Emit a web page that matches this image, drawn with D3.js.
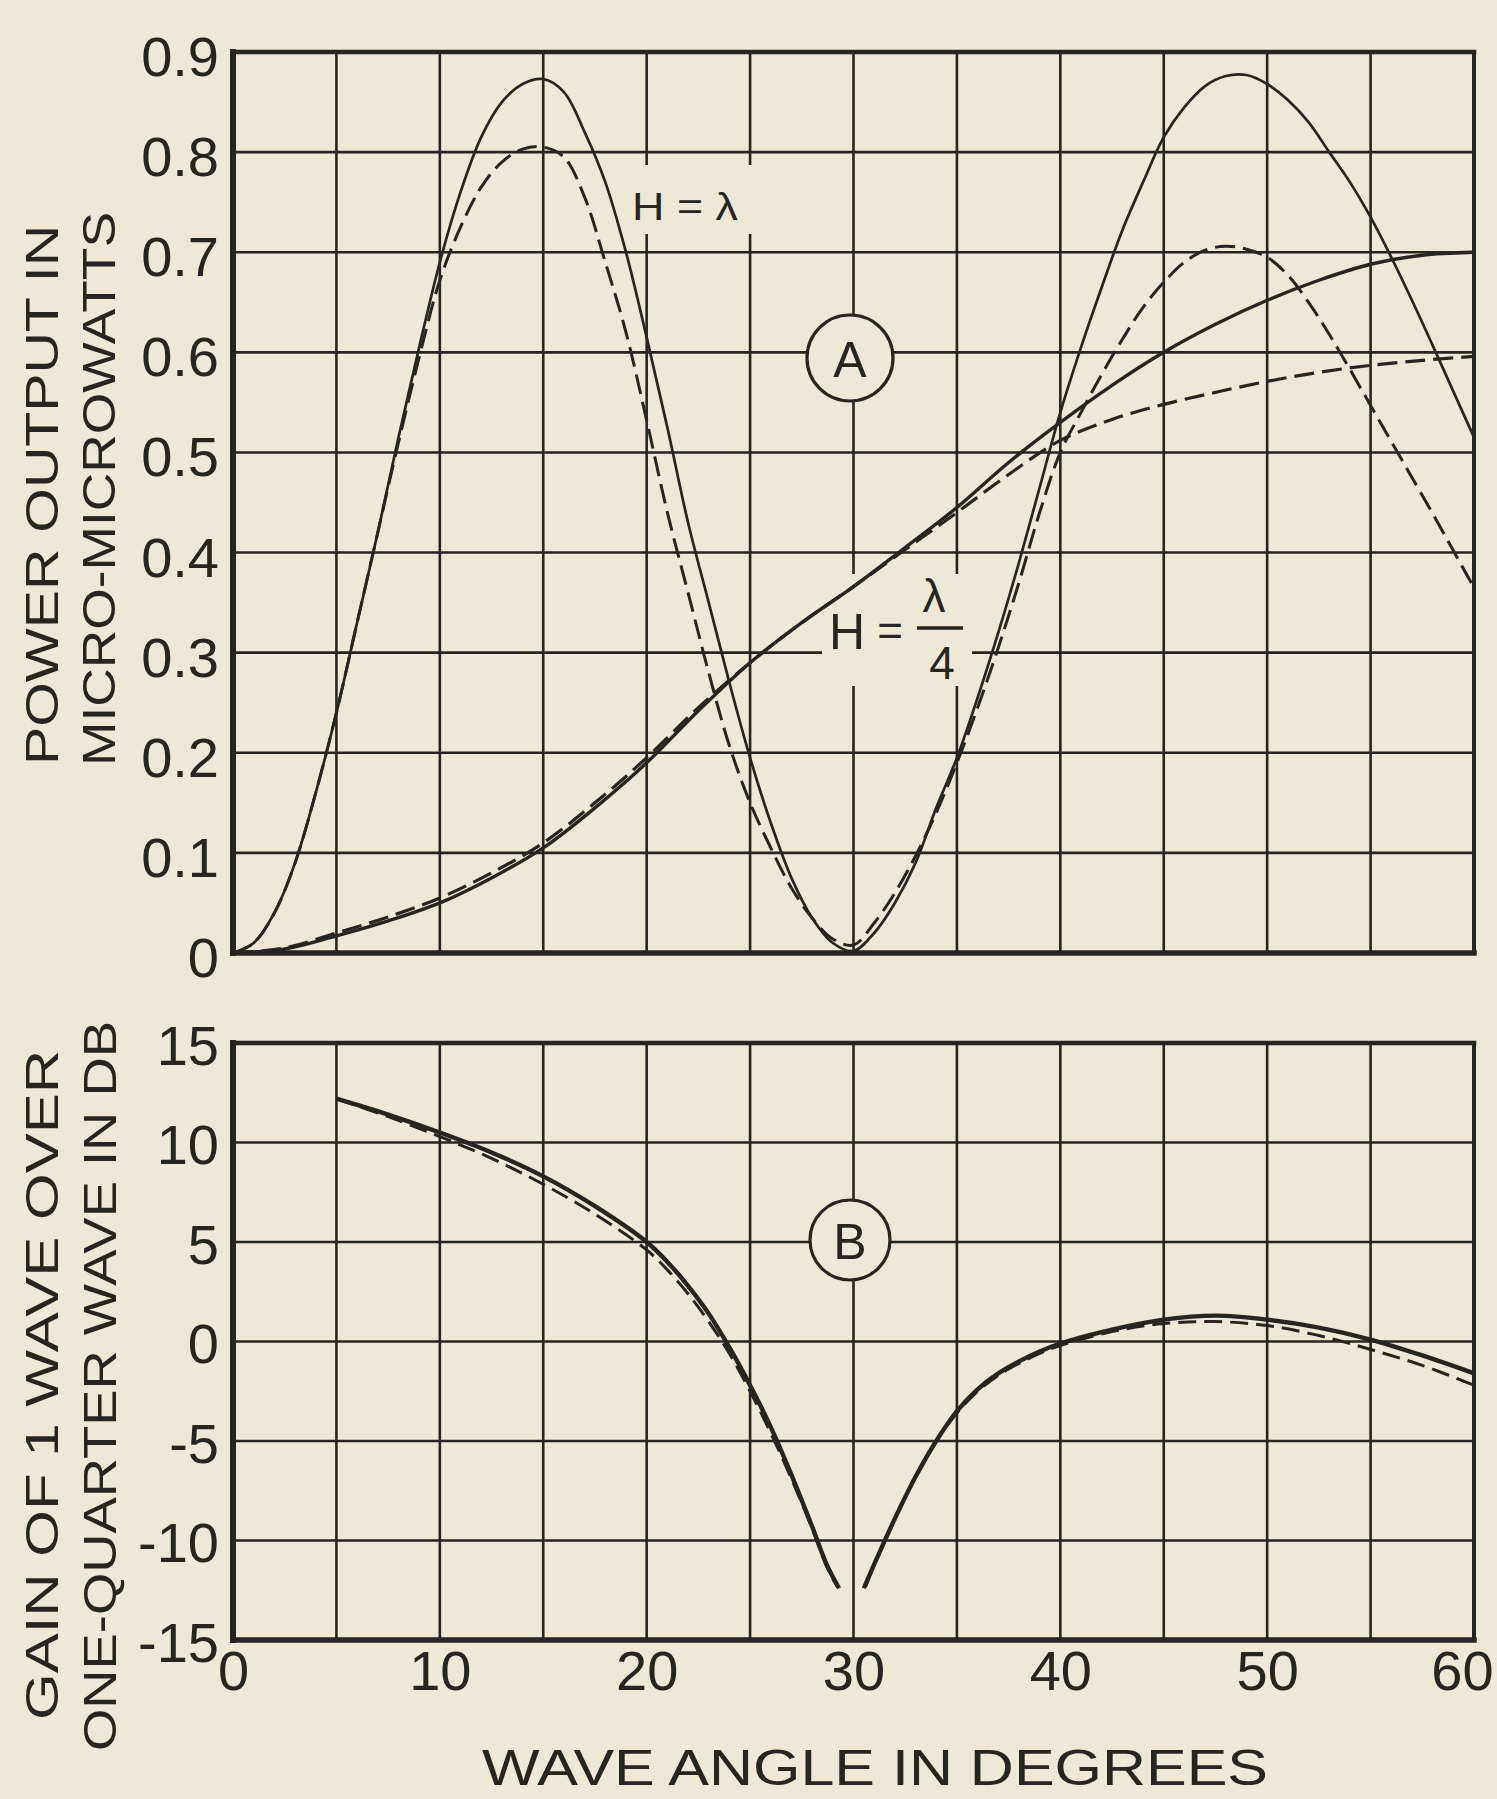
<!DOCTYPE html>
<html><head><meta charset="utf-8">
<script src="https://cdn.jsdelivr.net/npm/d3@7"></script>
<style>html,body{margin:0;padding:0;background:#eee8d6;}</style>
</head><body>
<script>
// ---------- DATA ----------
const xTicks = [0, 10, 20, 30, 40, 50, 60];
const yTopTicks = [0, 0.1, 0.2, 0.3, 0.4, 0.5, 0.6, 0.7, 0.8, 0.9];
const yBotTicks = [-15, -10, -5, 0, 5, 10, 15];

// H = lambda, solid (power, micro-microwatts)
const lambdaSolid = [[0,0],[1,0.01],[2,0.04],[3,0.09],[4,0.16],[5,0.24],[6,0.33],[7,0.42],[8,0.515],[9,0.605],[10,0.69],[11,0.76],[12,0.815],[13,0.85],[14,0.868],[15,0.873],[16,0.86],[17,0.82],[18,0.77],[19,0.70],[20,0.615],[21,0.525],[22,0.43],[23,0.35],[24,0.27],[25,0.195],[26,0.13],[27,0.075],[28,0.035],[29,0.01],[30,0.002],[31,0.02],[32,0.05],[33,0.09],[34,0.145],[35,0.195],[36,0.255],[37,0.32],[38,0.39],[39,0.465],[40,0.54],[41,0.605],[42,0.665],[43,0.722],[44,0.77],[45,0.815],[46,0.845],[47,0.866],[48,0.876],[49,0.877],[50,0.868],[51,0.852],[52,0.83],[53,0.80],[54,0.77],[55,0.735],[56,0.695],[57,0.652],[58,0.607],[59,0.561],[60,0.515]];
// H = lambda, dashed
const lambdaDashed = [[0,0],[1,0.01],[2,0.04],[3,0.09],[4,0.16],[5,0.24],[6,0.33],[7,0.42],[8,0.51],[9,0.595],[10,0.672],[11,0.725],[12,0.765],[13,0.79],[14,0.803],[15,0.805],[16,0.795],[17,0.755],[18,0.69],[19,0.62],[20,0.532],[21,0.44],[22,0.36],[23,0.28],[24,0.207],[25,0.15],[26,0.105],[27,0.065],[28,0.035],[29,0.014],[30,0.008],[31,0.03],[32,0.06],[33,0.097],[34,0.14],[35,0.19],[36,0.245],[37,0.305],[38,0.37],[39,0.44],[40,0.50],[41,0.54],[42,0.578],[43,0.613],[44,0.645],[45,0.67],[46,0.69],[47,0.702],[48,0.706],[49,0.703],[50,0.695],[51,0.677],[52,0.65],[53,0.618],[54,0.583],[55,0.547],[56,0.511],[57,0.475],[58,0.439],[59,0.402],[60,0.365]];
// H = lambda/4, solid
const quarterSolid = [[0,0],[2.5,0.004],[5,0.017],[7.5,0.032],[10,0.05],[12.5,0.075],[15,0.105],[17.5,0.145],[20,0.19],[22.5,0.242],[25,0.29],[27.5,0.33],[30,0.366],[32.5,0.405],[35,0.445],[37.5,0.49],[40,0.53],[42.5,0.567],[45,0.60],[47.5,0.628],[50,0.652],[52.5,0.672],[55,0.688],[57.5,0.697],[60,0.70]];
// H = lambda/4, dashed
const quarterDashed = [[0,0],[2.5,0.005],[5,0.02],[7.5,0.036],[10,0.055],[12.5,0.08],[15,0.11],[17.5,0.15],[20,0.195],[22.5,0.245],[25,0.29],[27.5,0.33],[30,0.366],[32.5,0.403],[35,0.44],[37.5,0.478],[40,0.512],[42.5,0.533],[45,0.548],[47.5,0.56],[50,0.571],[52.5,0.58],[55,0.587],[57.5,0.592],[60,0.596]];

// Gain (dB), solid, two branches
const gainSolidLeft = [[5,12.2],[7.5,11.4],[10,10.5],[12.5,9.5],[15,8.3],[17.5,6.8],[20,5.0],[21,4.0],[22,2.8],[23,1.4],[24,-0.3],[25,-2.2],[26,-4.3],[27,-6.7],[28,-9.3],[28.7,-11.2],[29.3,-12.4]];
const gainSolidRight = [[30.5,-12.4],[31,-11.2],[32,-8.9],[33,-6.8],[34,-5.0],[35,-3.5],[36,-2.4],[37,-1.6],[38,-1.0],[39,-0.5],[40,-0.1],[42.5,0.6],[45,1.1],[47.5,1.3],[50,1.1],[52.5,0.7],[55,0.1],[57.5,-0.7],[60,-1.6]];
// Gain (dB), dashed
const gainDashedLeft = [[5,12.2],[7.5,11.3],[10,10.3],[12.5,9.2],[15,7.9],[17.5,6.4],[20,4.6],[21,3.6],[22,2.4],[23,1.0],[24,-0.6],[25,-2.5],[26,-4.6],[27,-6.9],[28,-9.4],[28.7,-11.3],[29.2,-12.3]];
const gainDashedRight = [[30.6,-12.3],[31,-11.2],[32,-8.9],[33,-6.8],[34,-5.0],[35,-3.6],[36,-2.5],[37,-1.7],[38,-1.1],[39,-0.6],[40,-0.2],[42.5,0.5],[45,0.9],[47.5,1.0],[50,0.8],[52.5,0.3],[55,-0.4],[57.5,-1.2],[60,-2.2]];

// ---------- DRAWING ----------
const W = 1497, H = 1799;
const paper = "#eee8d6", ink = "#262521";
const font = "'Liberation Sans', Arial, sans-serif";

const svg = d3.select("body").append("svg").attr("width", W).attr("height", H)
  .style("display","block");
svg.append("rect").attr("width", W).attr("height", H).attr("fill", paper);

const x = d3.scaleLinear().domain([0, 60]).range([233, 1474]);
const yTop = d3.scaleLinear().domain([0, 0.9]).range([953, 52]);
const yBot = d3.scaleLinear().domain([-15, 15]).range([1640, 1043]);

function grid(yScale, yvals) {
  const g = svg.append("g").attr("stroke", ink).attr("stroke-width", 2.6);
  g.selectAll("line.v").data(d3.range(5, 60, 5)).join("line")
    .attr("x1", d => x(d)).attr("x2", d => x(d))
    .attr("y1", yScale.range()[0]).attr("y2", yScale.range()[1]);
  g.selectAll("line.h").data(yvals).join("line")
    .attr("x1", x(0)).attr("x2", x(60))
    .attr("y1", d => yScale(d)).attr("y2", d => yScale(d));
}
grid(yTop, yTopTicks.slice(1, -1));
grid(yBot, yBotTicks.slice(1, -1));

// knock-outs behind labels
svg.append("rect").attr("x", 622).attr("y", 165).attr("width", 130).attr("height", 69).attr("fill", paper);
svg.append("rect").attr("x", 822).attr("y", 574).attr("width", 150).attr("height", 112).attr("fill", paper);

// curves
const lineTop = d3.line().x(d => x(d[0])).y(d => yTop(d[1])).curve(d3.curveCatmullRom.alpha(0.5));
const lineBot = d3.line().x(d => x(d[0])).y(d => yBot(d[1])).curve(d3.curveCatmullRom.alpha(0.5));
const curves = svg.append("g").attr("fill", "none").attr("stroke", ink).attr("stroke-linecap", "butt");

curves.append("path").attr("d", lineTop(quarterSolid)).attr("stroke-width", 3.4);
curves.append("path").attr("d", lineTop(quarterDashed)).attr("stroke-width", 3.2).attr("stroke-dasharray", "20,8");
curves.append("path").attr("d", lineTop(lambdaSolid)).attr("stroke-width", 2.7);
curves.append("path").attr("d", lineTop(lambdaDashed)).attr("stroke-width", 3).attr("stroke-dasharray", "20,8");

curves.append("path").attr("d", lineBot(gainSolidLeft)).attr("stroke-width", 4.4);
curves.append("path").attr("d", lineBot(gainSolidRight)).attr("stroke-width", 4.4);
curves.append("path").attr("d", lineBot(gainDashedLeft)).attr("stroke-width", 3).attr("stroke-dasharray", "18,8");
curves.append("path").attr("d", lineBot(gainDashedRight)).attr("stroke-width", 3).attr("stroke-dasharray", "18,8");

// frames
function frame(yScale) {
  const g = svg.append("g").attr("stroke", ink).attr("stroke-linecap", "square");
  const y0 = yScale.range()[0], y1 = yScale.range()[1];
  g.append("line").attr("x1", x(0)).attr("x2", x(60)).attr("y1", y1).attr("y2", y1).attr("stroke-width", 4.5);
  g.append("line").attr("x1", x(60)).attr("x2", x(60)).attr("y1", y1).attr("y2", y0).attr("stroke-width", 4);
  g.append("line").attr("x1", x(0)).attr("x2", x(60)).attr("y1", y0).attr("y2", y0).attr("stroke-width", 5.5);
  g.append("line").attr("x1", x(0)).attr("x2", x(0)).attr("y1", y1).attr("y2", y0).attr("stroke-width", 6);
}
frame(yTop);
frame(yBot);

// axes (tick labels)
function styleAxis(g) {
  g.select(".domain").remove();
  g.selectAll(".tick line").remove();
  g.selectAll("text").attr("fill", ink).style("font-family", font).style("font-size", "56px");
}
svg.append("g").attr("transform", `translate(${x(0)},0)`)
  .call(d3.axisLeft(yTop).tickValues(yTopTicks).tickSize(0).tickPadding(14)
    .tickFormat(d => d === 0 ? "0" : d3.format(".1f")(d)))
  .call(styleAxis)
  .selectAll("text").attr("dy", "0.42em");
svg.append("g").attr("transform", `translate(${x(0)},0)`)
  .call(d3.axisLeft(yBot).tickValues(yBotTicks).tickSize(0).tickPadding(14)
    .tickFormat(d => String(d)))
  .call(styleAxis)
  .selectAll("text").attr("dy", "0.38em");
svg.append("g").attr("transform", `translate(0,${yBot(-15)})`)
  .call(d3.axisBottom(x).tickValues(xTicks).tickSize(0).tickPadding(10)
    .tickFormat(d => String(d)))
  .call(styleAxis)
  .selectAll("text").filter(d => d === 60).attr("dx", "-12");

// axis titles
function vtitle(txt, cx, cy, len) {
  svg.append("text").attr("transform", `translate(${cx},${cy}) rotate(-90)`)
    .attr("text-anchor", "middle").attr("dominant-baseline", "central")
    .attr("fill", ink).style("font-family", font).style("font-size", "46px")
    .attr("textLength", len).attr("lengthAdjust", "spacingAndGlyphs").text(txt);
}
vtitle("POWER OUTPUT  IN", 42, 495, 540);
vtitle("MICRO-MICROWATTS", 99, 489, 554);
vtitle("GAIN OF 1 WAVE  OVER", 42, 1385, 670);
vtitle("ONE-QUARTER WAVE IN DB", 100, 1386, 730);

svg.append("text").attr("x", 875).attr("y", 1768).attr("text-anchor", "middle")
  .attr("dominant-baseline", "central").attr("fill", ink)
  .style("font-family", font).style("font-size", "50px")
  .attr("textLength", 786).attr("lengthAdjust", "spacingAndGlyphs")
  .text("WAVE  ANGLE  IN  DEGREES");

// annotations
svg.append("text").attr("x", 685).attr("y", 207).attr("text-anchor", "middle")
  .attr("dominant-baseline", "central").attr("fill", ink)
  .style("font-family", font).style("font-size", "38px")
  .attr("textLength", 106).attr("lengthAdjust", "spacingAndGlyphs").text("H = λ");

svg.append("text").attr("x", 847).attr("y", 632).attr("text-anchor", "middle")
  .attr("dominant-baseline", "central").attr("fill", ink)
  .style("font-family", font).style("font-size", "50px").text("H");
svg.append("text").attr("x", 890).attr("y", 630).attr("text-anchor", "middle")
  .attr("dominant-baseline", "central").attr("fill", ink)
  .style("font-family", font).style("font-size", "44px").text("=");
svg.append("text").attr("x", 934).attr("y", 596).attr("text-anchor", "middle")
  .attr("dominant-baseline", "central").attr("fill", ink)
  .style("font-family", font).style("font-size", "46px").text("λ");
svg.append("line").attr("x1", 917).attr("x2", 963).attr("y1", 628).attr("y2", 628)
  .attr("stroke", ink).attr("stroke-width", 3.5);
svg.append("text").attr("x", 942).attr("y", 663).attr("text-anchor", "middle")
  .attr("dominant-baseline", "central").attr("fill", ink)
  .style("font-family", font).style("font-size", "46px").text("4");

function circled(letter, cx, cy, r) {
  svg.append("circle").attr("cx", cx).attr("cy", cy).attr("r", r)
    .attr("fill", paper).attr("stroke", ink).attr("stroke-width", 3.2);
  svg.append("text").attr("x", cx).attr("y", cy + 2).attr("text-anchor", "middle")
    .attr("dominant-baseline", "central").attr("fill", ink)
    .style("font-family", font).style("font-size", "50px").text(letter);
}
circled("A", 850, 358, 43);
circled("B", 850, 1240, 40);
</script>
</body></html>
